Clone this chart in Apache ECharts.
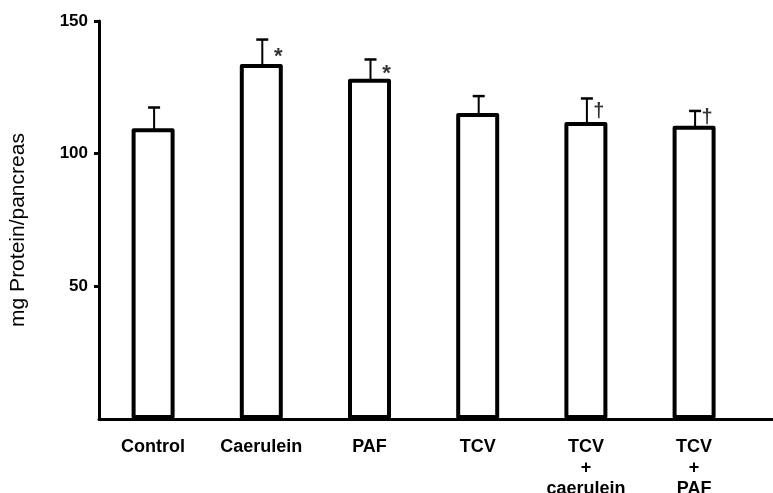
<!DOCTYPE html>
<html>
<head>
<meta charset="utf-8">
<script src="https://cdn.jsdelivr.net/npm/echarts@6/dist/echarts.min.js"></script>
<style>
html,body{margin:0;padding:0;background:#fff;}
#chart{width:773px;height:493px;}
</style>
</head>
<body>
<div id="chart"></div>
<script>
// ---- data ----
var categories = ['Control', 'Caerulein', 'PAF', 'TCV', 'TCV\n+\ncaerulein', 'TCV\n+\nPAF'];
var means = [109.6, 133.8, 128.2, 115.3, 111.9, 110.5];
var sem = [7.8, 9.2, 7.3, 6.4, 8.9, 5.6];
var sigMarks = ['', '*', '*', '', '\u2020', '\u2020'];
var sigMarkLevel = [null, 138, 131.5, null, 116.6, 114.5];
var yTicks = [0, 50, 100, 150];

var FONT = '"Liberation Sans", Arial, Helvetica, sans-serif';
var chart = echarts.init(document.getElementById('chart'), null, {renderer: 'canvas'});

var markStyle = {
  '*': {offset: [17, 4], fontSize: 22},
  '\u2020': {offset: [13, 2], fontSize: 20}
};

var barData = means.map(function (v, i) { return [i + 0.5, v]; });
var errData = means.map(function (v, i) { return [i + 0.5, v, sem[i]]; });
var markData = [];
sigMarks.forEach(function (s, i) {
  if (s) markData.push({value: [i + 0.5, sigMarkLevel[i]], mark: s, label: markStyle[s]});
});

var option = {
  backgroundColor: '#fff',
  animation: false,
  grid: {left: 99, right: 1, top: 21, bottom: 74, containLabel: false, outerBoundsMode: 'none'},
  xAxis: {
    type: 'value',
    min: 0,
    max: 6.22,
    interval: 0.5,
    splitLine: {show: false},
    axisTick: {show: false},
    axisLine: {show: true, lineStyle: {color: '#000', width: 3}},
    axisLabel: {
      show: true,
      margin: 18,
      color: '#000',
      fontFamily: FONT,
      fontWeight: 'bold',
      fontSize: 18,
      lineHeight: 21,
      showMinLabel: true,
      showMaxLabel: true,
      formatter: function (v) {
        var i = v - 0.5;
        if (Math.abs(i - Math.round(i)) < 1e-6) {
          i = Math.round(i);
          if (i >= 0 && i < categories.length) return categories[i];
        }
        return '';
      }
    }
  },
  yAxis: {
    type: 'value',
    min: yTicks[0],
    max: yTicks[yTicks.length - 1],
    interval: yTicks[1] - yTicks[0],
    name: 'mg Protein/pancreas',
    nameLocation: 'middle',
    nameGap: 70,
    nameTextStyle: {color: '#000', fontFamily: FONT, fontSize: 21, padding: [0, 20, 0, 0]},
    splitLine: {show: false},
    axisLine: {show: true, lineStyle: {color: '#000', width: 3}},
    axisTick: {show: true, length: 5, lineStyle: {color: '#000', width: 3}},
    axisLabel: {
      margin: 11,
      color: '#000',
      fontFamily: FONT,
      fontWeight: 'bold',
      fontSize: 17,
      showMinLabel: false
    }
  },
  series: [
    {
      type: 'bar',
      data: barData,
      barWidth: 43,
      itemStyle: {color: '#fff', borderColor: '#000', borderWidth: 4, borderJoin: 'round'},
      z: 2
    },
    {
      type: 'custom',
      data: errData,
      z: 3,
      renderItem: function (params, api) {
        var x = api.value(0), m = api.value(1), e = api.value(2);
        var p0 = api.coord([x, m]);
        var p1 = api.coord([x, m + e]);
        return {
          type: 'group',
          children: [
            {type: 'line', shape: {x1: p0[0] + 1, y1: p0[1] + 2, x2: p1[0] + 1, y2: p1[1]}, style: {stroke: '#000', lineWidth: 2}},
            {type: 'line', shape: {x1: p1[0] - 5, y1: p1[1], x2: p1[0] + 7, y2: p1[1]}, style: {stroke: '#000', lineWidth: 2.5}}
          ]
        };
      }
    },
    {
      type: 'scatter',
      data: markData,
      symbolSize: 0,
      z: 4,
      label: {
        show: true,
        position: 'inside',
        color: '#000',
        fontFamily: FONT,
        fontWeight: 'bold',
        fontSize: 18,
        formatter: function (p) { return p.data.mark; }
      }
    }
  ]
};
chart.setOption(option);
</script>
</body>
</html>
